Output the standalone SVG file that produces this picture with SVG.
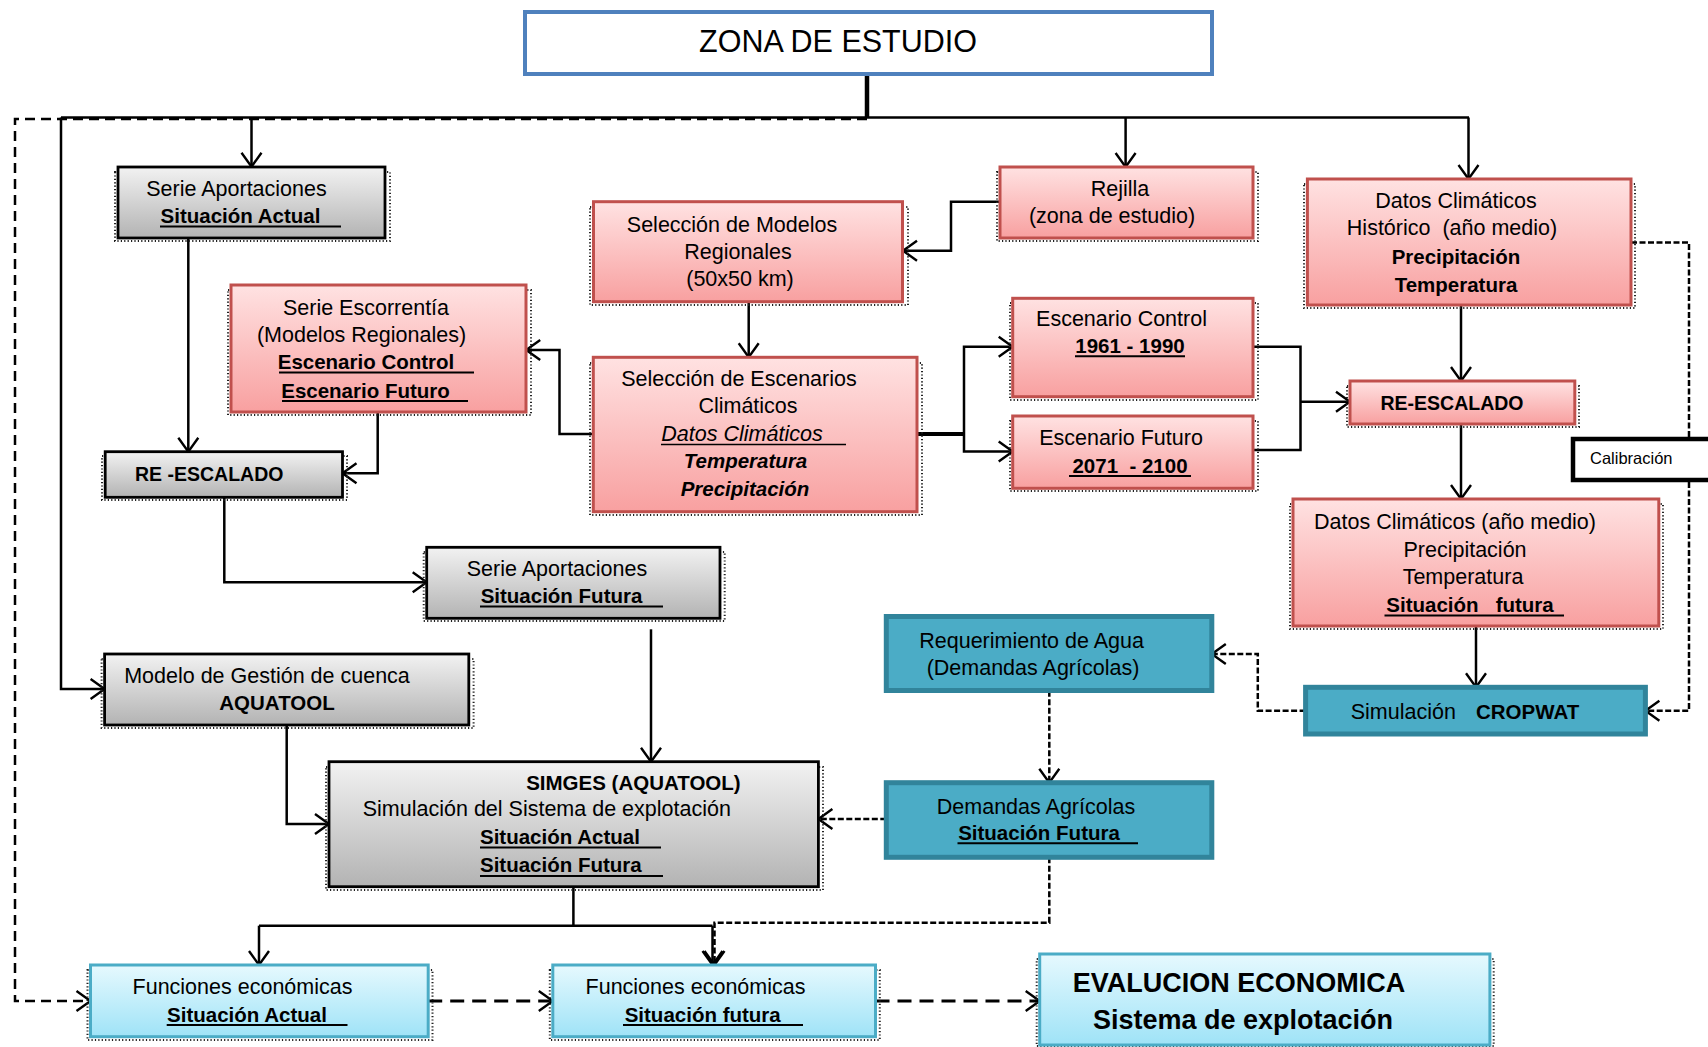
<svg xmlns="http://www.w3.org/2000/svg" width="1708" height="1047" viewBox="0 0 1708 1047">
<defs>
<linearGradient id="gGray" x1="0" y1="0" x2="0" y2="1"><stop offset="0" stop-color="#f2f2f2"/><stop offset="1" stop-color="#b3b3b3"/></linearGradient>
<linearGradient id="gPink" x1="0" y1="0" x2="0" y2="1"><stop offset="0" stop-color="#ffe2e2"/><stop offset="1" stop-color="#f8a0a0"/></linearGradient>
<linearGradient id="gBlue" x1="0" y1="0" x2="0" y2="1"><stop offset="0" stop-color="#e6f9fe"/><stop offset="1" stop-color="#9fe3f7"/></linearGradient>
<marker id="arr" markerUnits="userSpaceOnUse" markerWidth="18" markerHeight="24" refX="14" refY="10" orient="auto" overflow="visible">
<path d="M0,0 L14,10 L0,20" fill="none" stroke="#000" stroke-width="2.4"/>
</marker>
<style>
.c{fill:none;stroke:#000;stroke-width:2.5}
.ca{fill:none;stroke:#000;stroke-width:2.5;marker-end:url(#arr)}
.d{fill:none;stroke:#000;stroke-width:2.5;stroke-dasharray:6 2.5}
.da{fill:none;stroke:#000;stroke-width:2.5;stroke-dasharray:6 2.5;marker-end:url(#arr)}
.dl{fill:none;stroke:#000;stroke-width:2.5;stroke-dasharray:10 6}
.dt{fill:none;stroke:#000;stroke-width:3.2;stroke-dasharray:14 8;marker-end:url(#arr)}
.sh{fill:none;stroke:#222;stroke-width:2;stroke-dasharray:1.2 2.2}
.gray{fill:url(#gGray);stroke:#000;stroke-width:2.8}
.pink{fill:url(#gPink);stroke:#c0504d;stroke-width:3}
.lb{fill:url(#gBlue);stroke:#4bacc6;stroke-width:3}
.teal{fill:#4bacc6;stroke:#31849b;stroke-width:5}
.u{stroke:#000;stroke-width:2}
text{font-family:"Liberation Sans",Arial,sans-serif;font-size:21.5px;fill:#000}
.m{text-anchor:middle}
.b{font-weight:bold;font-size:20.5px}
.i{font-style:italic}
</style>
</defs>

<g id="connectors">
<path class="dl" d="M867,119 H15 V1001 H90.5" style="marker-end:url(#arr)"/>
<path class="c" d="M61,117.5 H1469"/>
<path class="c" d="M867,74 V117.5" style="stroke-width:4.5"/>
<path class="ca" d="M61,117.5 V689 H104.6"/>
<path class="ca" d="M251.5,117.5 V166.7"/>
<path class="ca" d="M1125.6,117.5 V167"/>
<path class="ca" d="M1468.5,117.5 V179"/>
<path class="ca" d="M1000,201.7 H951 V250.7 H903"/>
<path class="ca" d="M748.7,301.7 V357.3"/>
<path class="ca" d="M593.3,434 H559.5 V350 H526.2"/>
<path class="c" d="M917,434 H964" style="stroke-width:4.2"/>
<path class="ca" d="M964,434 V346.7 H1012.7"/>
<path class="ca" d="M964,434 V451.5 H1012.7"/>
<path class="c" d="M1253,346.7 H1300.5 V450 H1253"/>
<path class="ca" d="M1300.5,401.7 H1350"/>
<path class="ca" d="M1461,305 V381"/>
<path class="ca" d="M1461,424 V499"/>
<path class="ca" d="M1476,626 V687.3"/>
<path class="da" d="M1631,242.5 H1689 V710.7 H1645.4"/>
<path class="da" d="M1305.6,710.7 H1257.8 V654 H1211.8"/>
<path class="da" d="M1049.3,690.7 V782.7"/>
<path class="da" d="M886.3,819 H818.4"/>
<path class="da" d="M1049.3,857.3 V922.7 H714.5 V965"/>
<path class="ca" d="M188.3,238.3 V451.7"/>
<path class="ca" d="M377.7,412.3 V473.3 H342.5"/>
<path class="ca" d="M224.3,497.3 V582.3 H426.7"/>
<path class="ca" d="M651,629.3 V761.7"/>
<path class="ca" d="M286.7,725 V824 H329"/>
<path class="c" d="M573.4,886.7 V925.7 M259,925.7 H712.5"/>
<path class="ca" d="M259,925.7 V965"/>
<path class="ca" d="M712.5,925.7 V965"/>
<path class="dt" d="M428.2,1001 H552.8"/>
<path class="dt" d="M875.5,1001 H1039.7"/>
</g>

<g id="node-zona">
<rect x="525" y="12" width="687" height="62" fill="#fff" stroke="#4f81bd" stroke-width="4"/>
<text x="838" y="52" class="m" style="font-size:30.5px">ZONA DE ESTUDIO</text>
</g>

<g id="node-serie-actual">
<rect class="sh" x="115" y="172" width="275" height="69"/>
<rect class="gray" x="118" y="167" width="267" height="71"/>
<text x="236.5" y="196" class="m">Serie Aportaciones</text>
<text x="240.5" y="223" class="m b">Situación Actual</text>
<line class="u" x1="160" y1="226.5" x2="341" y2="226.5"/>
</g>

<g id="node-sel-modelos">
<rect class="sh" x="590" y="207" width="318" height="98"/>
<rect class="pink" x="593.5" y="201.7" width="309" height="100"/>
<text x="732" y="232" class="m">Selección de Modelos</text>
<text x="738" y="259" class="m">Regionales</text>
<text x="740" y="286" class="m">(50x50 km)</text>
</g>

<g id="node-rejilla">
<rect class="sh" x="997" y="172" width="261" height="69"/>
<rect class="pink" x="1000" y="167" width="253" height="71"/>
<text x="1120" y="196" class="m">Rejilla</text>
<text x="1112" y="223" class="m">(zona de estudio)</text>
</g>

<g id="node-datos-historico">
<rect class="sh" x="1304" y="184" width="331" height="124"/>
<rect class="pink" x="1307.4" y="179" width="323.6" height="126"/>
<text x="1456" y="208" class="m">Datos Climáticos</text>
<text x="1452" y="235" class="m" xml:space="preserve">Histórico  (año medio)</text>
<text x="1456" y="263.5" class="m b">Precipitación</text>
<text x="1456" y="292" class="m b">Temperatura</text>
</g>

<g id="node-escorrentia">
<rect class="sh" x="228" y="290" width="303" height="125"/>
<rect class="pink" x="231" y="285" width="295" height="127"/>
<text x="366" y="314.7" class="m">Serie Escorrentía</text>
<text x="361.5" y="342" class="m">(Modelos Regionales)</text>
<text x="366" y="369" class="m b">Escenario Control</text>
<line class="u" x1="279" y1="372.5" x2="474" y2="372.5"/>
<text x="365.5" y="397.5" class="m b">Escenario Futuro</text>
<line class="u" x1="282" y1="401" x2="468" y2="401"/>
</g>

<g id="node-sel-escenarios">
<rect class="sh" x="590" y="363" width="332" height="152"/>
<rect class="pink" x="593.3" y="357.3" width="323.7" height="154.4"/>
<text x="739" y="385.5" class="m">Selección de Escenarios</text>
<text x="748" y="412.7" class="m">Climáticos</text>
<text x="742" y="441" class="m i">Datos Climáticos</text>
<line class="u" x1="661" y1="444.5" x2="846" y2="444.5" style="stroke-width:1.6"/>
<text x="745.5" y="468.3" class="m b i">Temperatura</text>
<text x="745" y="495.5" class="m b i">Precipitación</text>
</g>

<g id="node-esc-control">
<rect class="sh" x="1010" y="303" width="248" height="97"/>
<rect class="pink" x="1012.7" y="298.3" width="240.3" height="98.4"/>
<text x="1121.5" y="325.6" class="m">Escenario Control</text>
<text x="1130" y="352.8" class="m b">1961 - 1990</text>
<line class="u" x1="1075" y1="356.3" x2="1185" y2="356.3"/>
</g>

<g id="node-esc-futuro">
<rect class="sh" x="1010" y="421" width="248" height="70"/>
<rect class="pink" x="1012.7" y="416" width="240.3" height="72.3"/>
<text x="1121" y="445.4" class="m">Escenario Futuro</text>
<text x="1130" y="472.6" class="m b" xml:space="preserve">2071  - 2100</text>
<line class="u" x1="1069" y1="476" x2="1191" y2="476"/>
</g>

<g id="node-reescalado-der">
<rect class="sh" x="1347" y="386" width="232" height="41"/>
<rect class="pink" x="1350" y="381" width="224.8" height="43"/>
<text x="1452" y="409.5" class="m b" style="font-size:19.5px">RE-ESCALADO</text>
</g>

<g id="node-calibracion">
<rect x="1573" y="439" width="160" height="41" fill="#fff" stroke="#000" stroke-width="4.5"/>
<text x="1590" y="464" style="font-size:16.5px">Calibración</text>
</g>

<g id="node-reescalado-izq">
<rect class="sh" x="102" y="456" width="245" height="44"/>
<rect class="gray" x="105.2" y="451.7" width="237.3" height="45.6"/>
<text x="135" y="481" class="b" style="font-size:19.5px">RE -ESCALADO</text>
</g>

<g id="node-datos-medio">
<rect class="sh" x="1290" y="504" width="373" height="125"/>
<rect class="pink" x="1293" y="499" width="365.8" height="127"/>
<text x="1455" y="529" class="m">Datos Climáticos (año medio)</text>
<text x="1465" y="556.5" class="m">Precipitación</text>
<text x="1463" y="583.7" class="m">Temperatura</text>
<text x="1470" y="612" class="m b" xml:space="preserve">Situación   futura</text>
<line class="u" x1="1384.5" y1="615.5" x2="1564" y2="615.5"/>
</g>

<g id="node-serie-futura">
<rect class="sh" x="423.7" y="552" width="301" height="69"/>
<rect class="gray" x="426.7" y="547.3" width="293.3" height="71"/>
<text x="557" y="576" class="m">Serie Aportaciones</text>
<text x="561.5" y="603" class="m b">Situación Futura</text>
<line class="u" x1="480" y1="606.5" x2="663" y2="606.5"/>
</g>

<g id="node-requerimiento">
<rect class="teal" x="886.3" y="616.5" width="325.5" height="74"/>
<text x="1031.6" y="648" class="m">Requerimiento de Agua</text>
<text x="1033" y="675" class="m">(Demandas Agrícolas)</text>
</g>

<g id="node-cropwat">
<rect class="teal" x="1305.6" y="687.3" width="339.8" height="46.7"/>
<text x="1350.7" y="718.8">Simulación</text>
<text x="1476" y="718.8" class="b">CROPWAT</text>
</g>

<g id="node-modelo-gestion">
<rect class="sh" x="101.6" y="659" width="372" height="69"/>
<rect class="gray" x="104.6" y="654" width="364.2" height="71"/>
<text x="267" y="683" class="m">Modelo de Gestión de cuenca</text>
<text x="277" y="710" class="m b">AQUATOOL</text>
</g>

<g id="node-simges">
<rect class="sh" x="326" y="767" width="497" height="123"/>
<rect class="gray" x="329" y="761.7" width="489.4" height="125"/>
<text x="633.4" y="789.6" class="m b">SIMGES (AQUATOOL)</text>
<text x="546.8" y="815.7" class="m">Simulación del Sistema de explotación</text>
<text x="480" y="844" class="b">Situación Actual</text>
<line class="u" x1="480" y1="847.5" x2="661" y2="847.5"/>
<text x="480" y="872.4" class="b">Situación Futura</text>
<line class="u" x1="480" y1="876" x2="663" y2="876"/>
</g>

<g id="node-demandas">
<rect class="teal" x="886.3" y="782.7" width="325.5" height="74.6"/>
<text x="1036" y="813.6" class="m">Demandas Agrícolas</text>
<text x="1039" y="839.7" class="m b">Situación Futura</text>
<line class="u" x1="957.5" y1="843.2" x2="1138" y2="843.2"/>
</g>

<g id="node-func-actual">
<rect class="sh" x="87.5" y="970" width="345" height="70"/>
<rect class="lb" x="90.5" y="965" width="337.7" height="71.7"/>
<text x="242.5" y="994.4" class="m">Funciones económicas</text>
<text x="247" y="1021.6" class="m b">Situación Actual</text>
<line class="u" x1="166.7" y1="1025" x2="347.5" y2="1025"/>
</g>

<g id="node-func-futura">
<rect class="sh" x="549.8" y="970" width="330" height="70"/>
<rect class="lb" x="552.8" y="965" width="322.7" height="71.7"/>
<text x="695.5" y="994.4" class="m">Funciones económicas</text>
<text x="702.7" y="1021.6" class="m b">Situación futura</text>
<line class="u" x1="623" y1="1025" x2="803" y2="1025"/>
</g>

<g id="node-evaluacion">
<rect class="sh" x="1036.7" y="959" width="457" height="87"/>
<rect class="lb" x="1039.7" y="954" width="450.2" height="91"/>
<text x="1239" y="992.4" class="m b" style="font-size:27px">EVALUCION ECONOMICA</text>
<text x="1243" y="1029.4" class="m b" style="font-size:27px">Sistema de explotación</text>
</g>
</svg>
